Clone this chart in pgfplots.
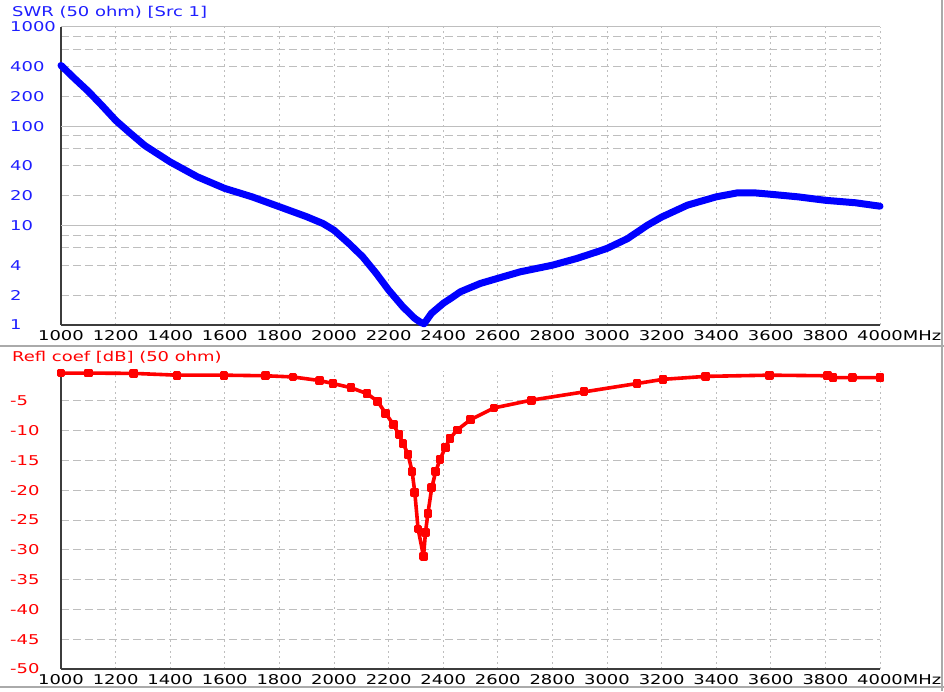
\documentclass[border=0pt]{standalone}
\usepackage{fontspec}
\setmainfont{DejaVu Sans}[FakeStretch=1.33]
\usepackage{pgfplots}
\pgfplotsset{compat=1.18}
\definecolor{gridc}{RGB}{190,190,190}
\definecolor{axc}{RGB}{60,60,60}
\definecolor{sepc}{RGB}{170,170,170}
\definecolor{swrblue}{RGB}{0,0,255}
\definecolor{lblblue}{RGB}{30,30,255}
\definecolor{rlred}{RGB}{255,0,0}
\pgfplotsset{
  vna/.style={
    scale only axis, width=819pt, height=298pt,
    xmin=1000, xmax=4000,
    axis x line*=bottom, axis y line*=left,
    axis line style={-, axc, line width=1.6pt},
    major tick length=0pt, minor tick length=0pt,
    xtick={1000,1200,...,4000},
    xticklabels={1000,1200,1400,1600,1800,2000,2200,2400,2600,2800,3000,3200,3400,3600,3800,{4000\rlap{MHz}}},
    xticklabel style={inner sep=0pt, anchor=north, yshift=-5pt, text=black},
    yticklabel style={inner sep=0pt, anchor=west, xshift=-51pt},
    xmajorgrids, ymajorgrids,
    major x grid style={gridc, line width=1pt, dash pattern=on 2pt off 3.5pt},
    major y grid style={gridc, line width=1pt, dash pattern=on 8pt off 4pt},
    minor y grid style={gridc, line width=1pt, dash pattern=on 8pt off 4pt},
    font=\fontsize{13.5}{15}\selectfont,
    /pgf/number format/assume math mode=true,
    clip=false,
  }
}
\begin{document}
\begin{tikzpicture}
\useasboundingbox (0pt,0pt) rectangle (944pt,691pt);
% separators
\draw[sepc, line width=2pt] (0pt,345pt) -- (944pt,345pt);
\draw[sepc, line width=2pt] (0pt,4pt) -- (944pt,4pt);
\draw[sepc, line width=2pt] (942pt,0pt) -- (942pt,691pt);
% ---------- SWR ----------
\begin{axis}[vna, at={(61pt,366pt)}, anchor=south west,
  ymode=log, ymin=1, ymax=1000,
  ytick={1,2,4,10,20,40,100,200,400,1000},
  yticklabels={1,2,4,10,20,40,100,200,400,1000},
  minor ytick={6,8,60,80,600,800}, yminorgrids,
  yticklabel style={text=lblblue},
  extra y ticks={10,100,1000}, extra y tick labels={},
  extra y tick style={major y grid style={gridc, line width=1pt, solid}},
]
\addplot[swrblue, line width=7pt, line join=round, line cap=round] coordinates {
(1000,410) (1050,302) (1100,225) (1150,162) (1200,115) (1250,87) (1307,64)
(1400,43.8) (1500,31) (1600,23.7)
(1700,19.5) (1800,15.5) (1900,12.3) (1960,10.5) (2000,9.0) (2055,6.6)
(2105,4.86) (2155,3.3) (2200,2.25) (2252,1.53) (2295,1.17) (2318,1.06) (2330,1.03)
(2357,1.31) (2400,1.65) (2436,1.92) (2463,2.16) (2536,2.62) (2600,2.95)
(2682,3.43) (2800,4.0) (2890,4.68) (2963,5.45) (3000,5.9) (3075,7.4)
(3148,10.1) (3200,12.2) (3295,16.1) (3400,19.5) (3478,21.4) (3540,21.4)
(3600,20.7) (3700,19.5) (3800,18.0) (3910,17.0) (4000,15.7)
};
\end{axis}
% ---------- Return loss ----------
\begin{axis}[vna, at={(61pt,22pt)}, anchor=south west,
  ymin=-50, ymax=0,
  ytick={-50,-45,-40,-35,-30,-25,-20,-15,-10,-5},
  yticklabels={-50,-45,-40,-35,-30,-25,-20,-15,-10,-5},
  yticklabel style={text=rlred},
]
\addplot[rlred, line width=3.6pt, line join=round, mark=square*, mark size=2.6pt] coordinates {
(1000,-0.35) (1100,-0.35) (1267,-0.4) (1425,-0.7) (1597,-0.7) (1750,-0.8)
(1850,-1.0) (1947,-1.6) (1996,-2.1) (2062,-2.8) (2121,-3.8) (2160,-5.1)
(2189,-7.1) (2218,-9.0) (2238,-10.7) (2253,-12.1) (2271,-14.0) (2286,-16.8)
(2296,-20.4) (2308,-26.5) (2328,-31.1) (2335,-27.1) (2344,-23.9) (2358,-19.6)
(2373,-16.8) (2388,-14.9) (2407,-12.9) (2425,-11.3) (2451,-9.9) (2499,-8.2)
(2586,-6.2) (2722,-4.9) (2916,-3.5) (3110,-2.1) (3205,-1.4) (3362,-0.9)
(3595,-0.7) (3808,-0.8) (3828,-1.1) (3900,-1.1) (4000,-1.1)
};
\end{axis}
% titles
\node[anchor=west, inner sep=0pt, text=lblblue, font=\fontsize{13.5}{15}\selectfont] at (12pt,679pt) {SWR (50 ohm) [Src 1]};
\node[anchor=west, inner sep=0pt, text=rlred, font=\fontsize{13.5}{15}\selectfont] at (12pt,334pt) {Refl coef [dB] (50 ohm)};
\end{tikzpicture}
\end{document}
